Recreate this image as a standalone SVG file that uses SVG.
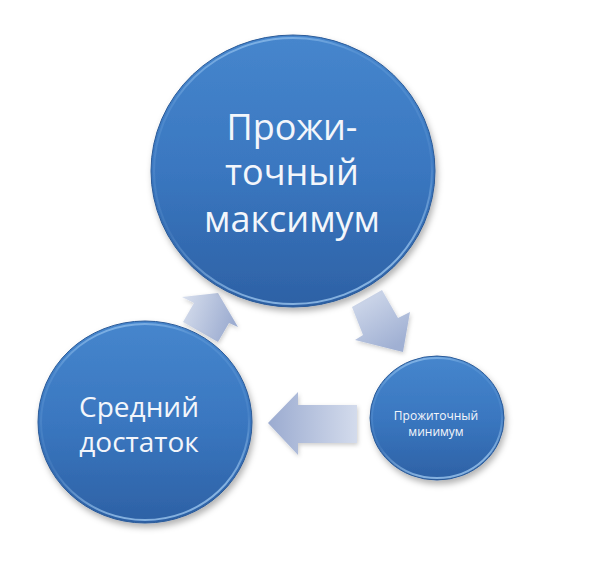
<svg xmlns="http://www.w3.org/2000/svg" width="591" height="572" viewBox="0 0 591 572">
<defs>
<linearGradient id="gCircle" x1="0" y1="0" x2="0" y2="1">
<stop offset="0" stop-color="#4686cd"/>
<stop offset="0.5" stop-color="#3a77c0"/>
<stop offset="1" stop-color="#2d61a5"/>
</linearGradient>
<linearGradient id="gRim" x1="0" y1="0" x2="0.3" y2="1">
<stop offset="0" stop-color="#a9d2f7" stop-opacity="0.9"/>
<stop offset="0.25" stop-color="#a9d2f7" stop-opacity="0.15"/>
<stop offset="0.7" stop-color="#a9d2f7" stop-opacity="0.1"/>
<stop offset="1" stop-color="#a9d2f7" stop-opacity="0.7"/>
</linearGradient>
<linearGradient id="gA1" x1="0" y1="0" x2="1" y2="0.3">
<stop offset="0" stop-color="#d9e0ee"/>
<stop offset="1" stop-color="#9dadd1"/>
</linearGradient>
<linearGradient id="gA2" x1="0" y1="0" x2="0.6" y2="1">
<stop offset="0" stop-color="#d6deee"/>
<stop offset="1" stop-color="#a0b0d3"/>
</linearGradient>
<linearGradient id="gA3" x1="0" y1="0" x2="1" y2="0">
<stop offset="0" stop-color="#9babd0"/>
<stop offset="1" stop-color="#d3dbec"/>
</linearGradient>
<filter id="shadow" x="-20%" y="-20%" width="140%" height="140%">
<feDropShadow dx="2" dy="4" stdDeviation="3" flood-color="#000" flood-opacity="0.3"/>
</filter>
<filter id="ashadow" x="-20%" y="-20%" width="140%" height="140%">
<feDropShadow dx="1" dy="2" stdDeviation="2" flood-color="#000" flood-opacity="0.2"/>
</filter>
</defs>
<style>
.circ { fill: url(#gCircle); stroke: #2a5a98; stroke-width: 1; }
.rim { fill: none; stroke: url(#gRim); stroke-width: 2; }
.lbl { font-family: "Open Sans", "Noto Sans", "DejaVu Sans", sans-serif; fill: #f3f6fb; text-anchor: middle; }
</style>
<rect width="591" height="572" fill="#ffffff"/>
<g id="connectors" filter="url(#ashadow)">
<polygon id="arrow-left-top" fill="url(#gA1)" points="182,297 218,293 238,327 229,323 218,342 183,322 194,303"/>
<polygon id="arrow-top-right" fill="url(#gA2)" points="352,307 382,290 398,318 410,312 403,352 355,340 363,335"/>
<polygon id="arrow-right-left" fill="url(#gA3)" points="268,423 298,392 298,405 357,405 357,443 298,443 298,455"/>
</g>
<g id="node-max">
<ellipse class="circ" cx="293" cy="171" rx="142" ry="136" filter="url(#shadow)"/>
<ellipse class="rim" cx="293" cy="171" rx="139" ry="133"/>
<text class="lbl" font-size="36" x="292" y="140">Прожи-</text>
<text class="lbl" font-size="36" x="292" y="185">точный</text>
<text class="lbl" font-size="36" x="292" y="232">максимум</text>
</g>
<g id="node-avg">
<ellipse class="circ" cx="145" cy="422" rx="107" ry="101" filter="url(#shadow)"/>
<ellipse class="rim" cx="145" cy="422" rx="104" ry="98"/>
<text class="lbl" font-size="28" x="139" y="417">Средний</text>
<text class="lbl" font-size="28" x="139" y="452">достаток</text>
</g>
<g id="node-min">
<ellipse class="circ" cx="437" cy="418" rx="67" ry="62" filter="url(#shadow)"/>
<ellipse class="rim" cx="437" cy="418" rx="65" ry="60"/>
<text class="lbl" font-size="12" x="436" y="420">Прожиточный</text>
<text class="lbl" font-size="12" x="436" y="436">минимум</text>
</g>
</svg>
